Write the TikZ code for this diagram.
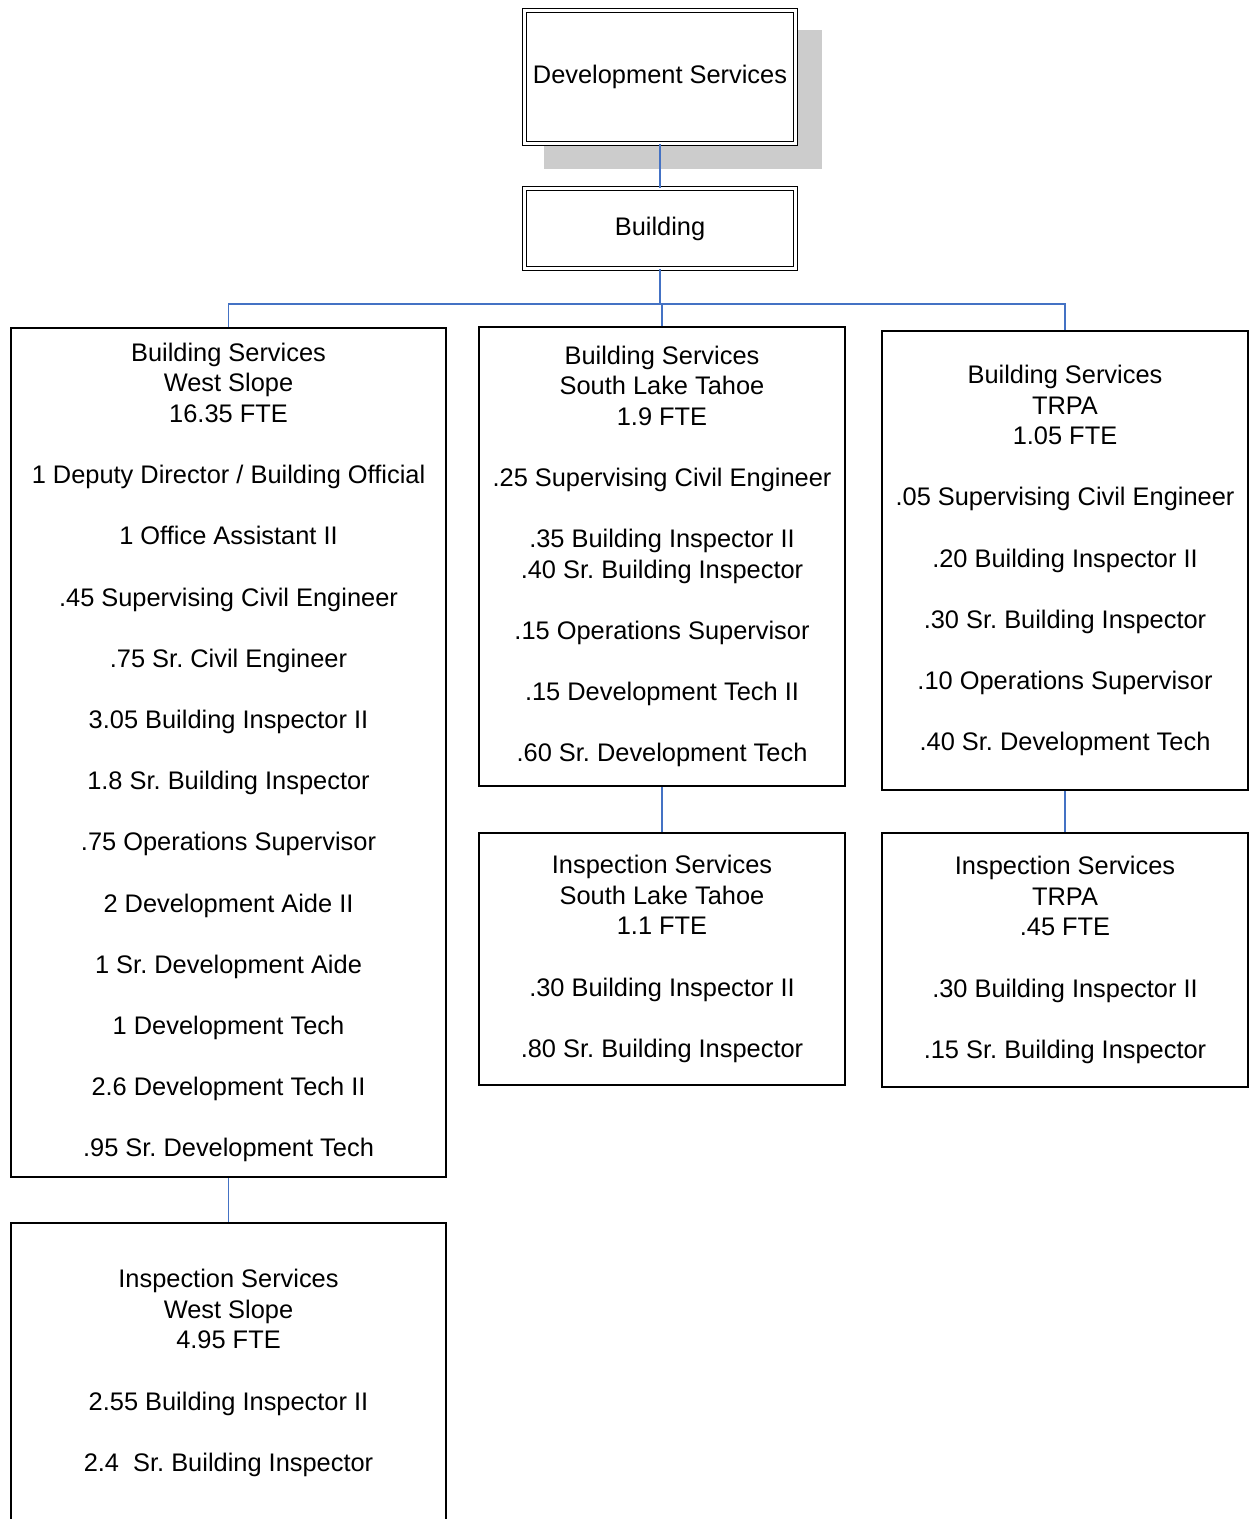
\documentclass[tikz,border=0pt]{standalone}
\usepackage{fontspec}
\setmainfont{Liberation Sans}
\definecolor{conblue}{HTML}{4472C4}
\definecolor{shadowgray}{HTML}{CCCCCC}
\frenchspacing
\begin{document}
\begin{tikzpicture}[x=1pt,y=-1pt,
  box/.style={draw, line width=1.5pt, inner sep=0pt, align=center,
    font=\fontsize{25.4}{30.6}\selectfont,
    execute at begin node={\vspace*{4pt}}},
  dbox/.style={box, double, double distance=2.7pt, line width=1.3pt},
  conn/.style={draw=conblue, line width=1.4pt}]
\clip (0,0) rectangle (1249,1519);
\useasboundingbox (0,0) rectangle (1249,1519);
% shadow of the top box
\fill[shadowgray] (544,30) rectangle (822,169);
% top boxes
\node[dbox, fill=white, minimum width=270.7pt, minimum height=132.7pt] (dev) at (660,77) {Development Services};
\node[dbox, minimum width=270.7pt, minimum height=79.7pt] (bld) at (660,228.5) {Building};
% second level boxes
\node[box, minimum width=435pt, minimum height=849pt] (bsw) at (228.5,752.5)
{Building Services\\West Slope\\16.35 FTE\\[30.6pt]
1 Deputy Director / Building Official\\[30.6pt]
1 Office Assistant II\\[30.6pt]
.45 Supervising Civil Engineer\\[30.6pt]
.75 Sr. Civil Engineer\\[30.6pt]
3.05 Building Inspector II\\[30.6pt]
1.8 Sr. Building Inspector\\[30.6pt]
.75 Operations Supervisor\\[30.6pt]
2 Development Aide II\\[30.6pt]
1 Sr. Development Aide\\[30.6pt]
1 Development Tech\\[30.6pt]
2.6 Development Tech II\\[30.6pt]
.95 Sr. Development Tech};
\node[box, minimum width=366pt, minimum height=459pt] (bss) at (662,556.5)
{Building Services\\South Lake Tahoe\\1.9 FTE\\[30.6pt]
.25 Supervising Civil Engineer\\[30.6pt]
.35 Building Inspector II\\
.40 Sr. Building Inspector\\[30.6pt]
.15 Operations Supervisor\\[30.6pt]
.15 Development Tech II\\[30.6pt]
.60 Sr. Development Tech};
\node[box, minimum width=366pt, minimum height=459pt] (bst) at (1065,560.5)
{Building Services\\TRPA\\1.05 FTE\\[30.6pt]
.05 Supervising Civil Engineer\\[30.6pt]
.20 Building Inspector II\\[30.6pt]
.30 Sr. Building Inspector\\[30.6pt]
.10 Operations Supervisor\\[30.6pt]
.40 Sr. Development Tech};
% third level
\node[box, minimum width=366pt, minimum height=252pt] (iss) at (662,959)
{Inspection Services\\South Lake Tahoe\\1.1 FTE\\[30.6pt]
.30 Building Inspector II\\[30.6pt]
.80 Sr. Building Inspector};
\node[box, minimum width=366pt, minimum height=254pt] (ist) at (1065,960)
{Inspection Services\\TRPA\\.45 FTE\\[30.6pt]
.30 Building Inspector II\\[30.6pt]
.15 Sr. Building Inspector};
\node[box, minimum width=435pt, minimum height=300pt] (isw) at (228.5,1373)
{Inspection Services\\West Slope\\4.95 FTE\\[30.6pt]
2.55 Building Inspector II\\[30.6pt]
2.4\ \ Sr. Building Inspector};
% connectors
\coordinate (bar) at (660,304);
\draw[conn] (dev.south) -- (bld.north);
\draw[conn] (bld.south) -- (bar);
\draw[conn] (bsw.north) |- (bar) -| (bst.north);
\draw[conn] (bss.north) -- (bss.north |- bar);
\draw[conn] (bsw.south) -- (isw.north);
\draw[conn] (bss.south) -- (iss.north);
\draw[conn] (bst.south) -- (ist.north);
\end{tikzpicture}
\end{document}
